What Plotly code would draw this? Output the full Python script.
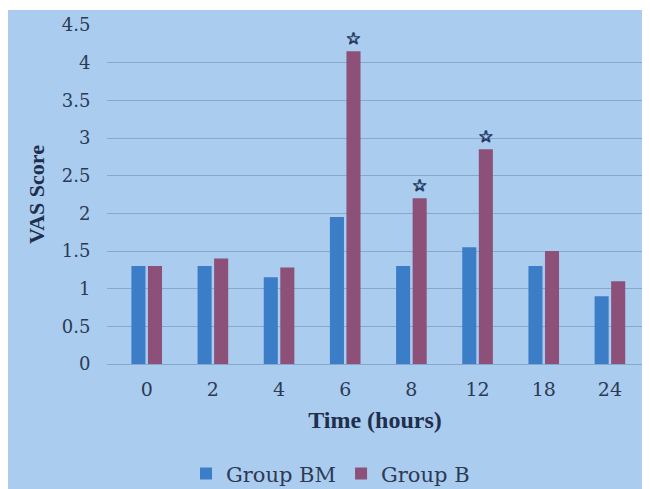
import plotly.graph_objects as go

times = ["0", "2", "4", "6", "8", "12", "18", "24"]
group_bm = [1.3, 1.3, 1.15, 1.95, 1.3, 1.55, 1.3, 0.9]
group_b = [1.3, 1.4, 1.28, 4.15, 2.2, 2.85, 1.5, 1.1]
significance = ["", "", "", "☆", "☆", "☆", "", ""]
y_ticks = [0, 0.5, 1, 1.5, 2, 2.5, 3, 3.5, 4, 4.5]

BG = "#AACCEF"
TXT = "#1F2F4D"
TICK = "#2C3A55"
SERIF = "DejaVu Serif"
SERIF_B = "Liberation Serif"
STAR = "#1A2F5A"
sh = "0.7px 0 0 {c}, -0.7px 0 0 {c}, 0 0.7px 0 {c}, 0 -0.7px 0 {c}".format(c=STAR)

fig = go.Figure()
fig.add_trace(go.Bar(x=times, y=group_bm, name="Group BM",
                     marker=dict(color="#3C7DC8", line=dict(width=0))))
fig.add_trace(go.Bar(x=times, y=group_b, name="Group B",
                     marker=dict(color="#8C5079", line=dict(width=0)),
                     text=significance, textposition="outside",
                     constraintext="none", cliponaxis=False,
                     textfont=dict(family="DejaVu Sans", size=17, color=STAR, shadow=sh)))

fig.update_layout(
    width=642, height=481,
    margin=dict(l=99, r=7, t=17, b=125, autoexpand=False),
    paper_bgcolor="white", plot_bgcolor=BG,
    barmode="group", bargap=0.5, bargroupgap=0.15,
    font=dict(family=SERIF, color=TXT),
    showlegend=True,
    legend=dict(orientation="h", x=0.417, xanchor="center", y=-0.324, yanchor="middle",
                font=dict(family=SERIF, size=21, color=TICK), itemwidth=30,
                bgcolor="rgba(0,0,0,0)", traceorder="normal"),
    shapes=[dict(type="rect", xref="paper", yref="paper",
                 x0=-0.185, x1=1.03, y0=-0.4, y1=1.044,
                 fillcolor=BG, line=dict(width=0), layer="below")],
)
fig.update_xaxes(
    title=dict(text="<b>Time (hours)</b>", font=dict(family=SERIF_B, size=24, color=TXT), standoff=12),
    tickfont=dict(family=SERIF, size=19, color=TICK),
    range=[-0.6, 7.5], automargin=False,
    ticks="outside", ticklen=8, tickcolor="rgba(0,0,0,0)",
    showline=False, showgrid=False,
)
fig.update_yaxes(
    title=dict(text="<b>VAS Score</b>", font=dict(family=SERIF_B, size=22, color=TXT), standoff=11),
    range=[0, 4.5], tickvals=y_ticks, ticktext=[f"{v:g}" for v in y_ticks],
    tickfont=dict(family=SERIF, size=18, color=TICK), automargin=False,
    ticks="outside", ticklen=12, tickcolor="rgba(0,0,0,0)",
    showgrid=True, gridcolor="#88A7CB", gridwidth=1,
    zeroline=True, zerolinecolor="#88A7CB", zerolinewidth=1,
    showline=False,
)

fig.write_html("out.html")
